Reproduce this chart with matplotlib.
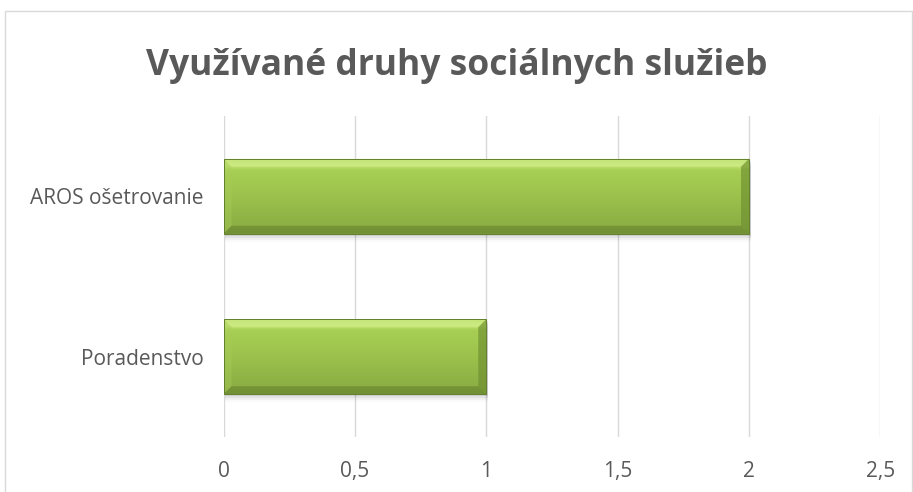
import matplotlib
matplotlib.use("Agg")
import matplotlib.pyplot as plt
import numpy as np
from matplotlib.patches import Rectangle, Polygon
from matplotlib.colors import LinearSegmentedColormap

categories = ["Poradenstvo", "AROS ošetrovanie"]
values = [1, 2]
xticks = [0, 0.5, 1, 1.5, 2, 2.5]
xtick_labels = ["0", "0,5", "1", "1,5", "2", "2,5"]
title = "Využívané druhy sociálnych služieb"

plt.rcParams['font.family'] = ['Open Sans', 'DejaVu Sans']

W, H = 913, 492
fig = plt.figure(figsize=(W/100, H/100), dpi=100)
L, R, T, B = 223.5, 880.4, 116, 437
ax = fig.add_axes([L/W, 1-B/H, (R-L)/W, (B-T)/H])

# border
fig.patches.append(Rectangle((5/W, -0.05), (911.5-5)/W, 1.05-11/H,
                             transform=fig.transFigure, fill=False,
                             edgecolor="#D9D9D9", lw=1.0))

ypos = np.arange(len(categories))
h = 0.467
ax.set_xlim(0, 2.5)
ax.set_ylim(-0.5, len(categories)-0.5)

cmap = LinearSegmentedColormap.from_list("g", [
    (0.0, "#809F3D"), (0.10, "#8CAE44"), (0.5, "#9CC24C"),
    (0.85, "#A7CF54"), (0.92, "#C6E576"), (1.0, "#B2D764")])

bars = ax.barh(ypos, values, height=h, color="#9DC44C", zorder=3)
grad = np.linspace(0, 1, 256).reshape(-1, 1)
pxu = (R-L)/2.5
pyu = (B-T)/2.0
bx = 8/pxu
by = 8/pyu
for b in bars:
    x0, y0 = b.get_x(), b.get_y()
    w, hh = b.get_width(), b.get_height()
    # soft shadow
    for k, a in enumerate([0.09, 0.06, 0.035, 0.02]):
        ax.add_patch(Rectangle((x0 + 1.5/pxu, y0 - (k+1)*2/pyu), w, hh,
                               facecolor="black", alpha=a, lw=0, zorder=2))
    im = ax.imshow(grad, extent=[x0, x0+w, y0, y0+hh], origin="lower",
                   cmap=cmap, aspect="auto", zorder=3.5)
    im.set_clip_path(b)
    # bevels
    top = Polygon([(x0, y0+hh), (x0+w, y0+hh), (x0+w-bx, y0+hh-by), (x0+bx, y0+hh-by)],
                  closed=True, facecolor="#D2EE8A", alpha=0.55, lw=0, zorder=4)
    bot = Polygon([(x0, y0), (x0+w, y0), (x0+w-bx, y0+by), (x0+bx, y0+by)],
                  closed=True, facecolor="#6C8A32", alpha=0.7, lw=0, zorder=4)
    left = Polygon([(x0, y0), (x0, y0+hh), (x0+bx, y0+hh-by), (x0+bx, y0+by)],
                   closed=True, facecolor="#A9CE5C", alpha=0.4, lw=0, zorder=4)
    right = Polygon([(x0+w, y0), (x0+w, y0+hh), (x0+w-bx, y0+hh-by), (x0+w-bx, y0+by)],
                    closed=True, facecolor="#6E8E30", alpha=0.65, lw=0, zorder=4)
    for p in (top, bot, left, right):
        ax.add_patch(p)
    ax.add_patch(Rectangle((x0, y0), w, hh, fill=False, edgecolor="#62802C",
                           lw=0.7, zorder=5))

ax.set_xticks(xticks)
ax.set_xticklabels(xtick_labels)
ax.set_yticks(ypos)
ax.set_yticklabels(categories)
ax.grid(axis="x", color="#D9D9D9", lw=1.0, zorder=0)
ax.grid(axis="y", visible=False)
ax.set_axisbelow(True)
for s in ax.spines.values():
    s.set_visible(False)
ax.tick_params(axis="both", length=0, labelsize=15, labelcolor="#595959")
ax.tick_params(axis="x", pad=17)
ax.tick_params(axis="y", pad=14.5)

fig.text(0.5, 1-75/H, title, ha="center", va="baseline", fontsize=25.5,
         fontweight="bold", color="#595959")

fig.savefig("out.png", dpi=100)
